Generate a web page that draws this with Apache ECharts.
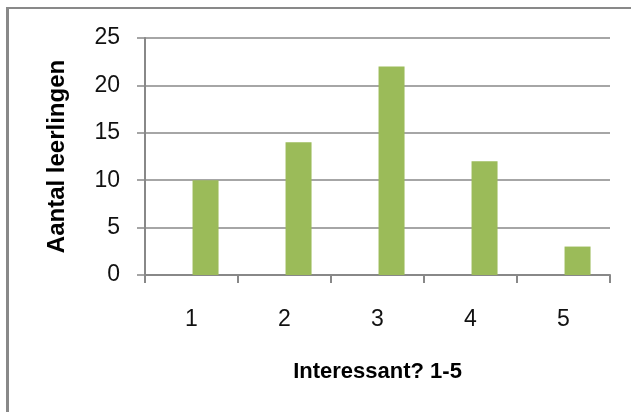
<!DOCTYPE html>
<html>
<head>
<meta charset="utf-8">
<script src="https://cdn.jsdelivr.net/npm/echarts@6/dist/echarts.min.js"></script>
<style>
html,body{margin:0;padding:0;background:#fff;}
#c{width:631px;height:412px;position:relative;}
#frame{position:absolute;left:6px;top:7px;width:640px;height:420px;border-left:3px solid #898989;border-top:2px solid #898989;pointer-events:none;}
</style>
</head>
<body>
<div id="c"></div>
<div id="frame"></div>
<script>
const categories = ['1', '2', '3', '4', '5'];
const emptySeries = [null, null, null, null, null];
const values = [10, 14, 22, 12, 3];
const yTicks = {min: 0, max: 25, interval: 5};
const xTitle = 'Interessant? 1-5';
const yTitle = 'Aantal leerlingen';

const chart = echarts.init(document.getElementById('c'), null, {renderer: 'canvas'});
const axisColor = '#888888';
const font = 'Liberation Sans';
chart.setOption({
  animation: false,
  grid: {left: 145, right: 21, top: 38, bottom: 137, containLabel: false},
  xAxis: {
    type: 'category',
    data: categories,
    boundaryGap: true,
    name: xTitle,
    nameLocation: 'middle',
    nameGap: 86,
    nameTextStyle: {fontFamily: font, fontWeight: 'bold', fontSize: 22, color: '#000'},
    axisLine: {lineStyle: {color: axisColor, width: 2}},
    axisTick: {show: true, length: 8, alignWithLabel: false, lineStyle: {color: axisColor, width: 2}},
    axisLabel: {margin: 33, fontFamily: font, fontSize: 23, color: '#111'},
    splitLine: {show: false}
  },
  yAxis: {
    type: 'value',
    min: yTicks.min,
    max: yTicks.max,
    interval: yTicks.interval,
    name: yTitle,
    nameLocation: 'middle',
    nameGap: 76,
    nameRotate: 90,
    nameTextStyle: {fontFamily: font, fontWeight: 'bold', fontSize: 24, color: '#000'},
    axisLine: {show: true, lineStyle: {color: axisColor, width: 2}},
    axisTick: {show: true, length: 8, lineStyle: {color: axisColor, width: 1.5}},
    axisLabel: {margin: 25, fontFamily: font, fontSize: 23, color: '#111'},
    splitLine: {show: true, lineStyle: {color: axisColor, width: 1.5}}
  },
  series: [{
    type: 'bar',
    name: 'leeg',
    data: emptySeries,
    barWidth: 26,
    barGap: '8%',
    itemStyle: {color: '#4F81BD'}
  }, {
    type: 'bar',
    name: 'Aantal',
    data: values,
    barWidth: 26,
    barGap: '8%',
    itemStyle: {color: '#9BBB59'}
  }]
});
</script>
</body>
</html>
